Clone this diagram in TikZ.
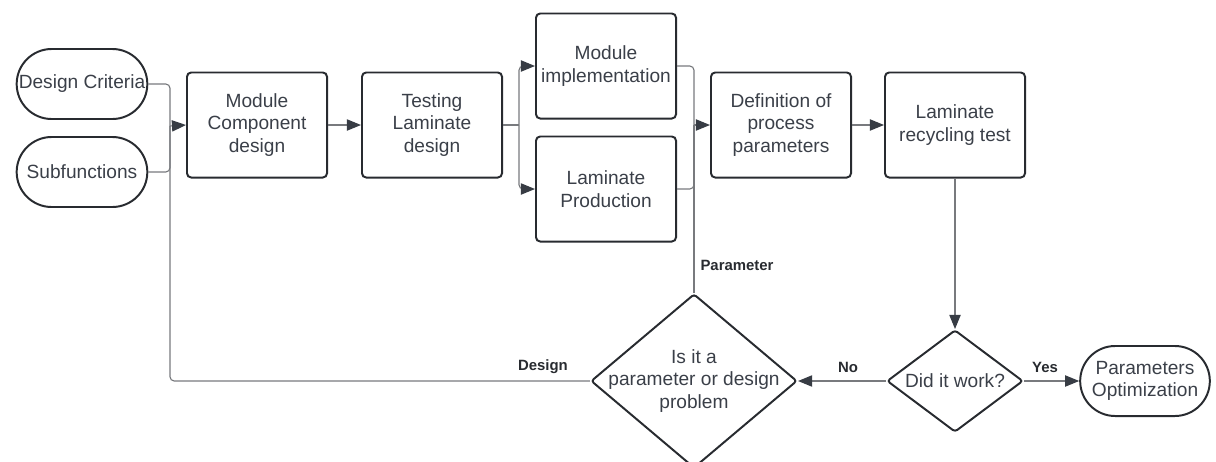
\documentclass[tikz,border=0pt]{standalone}
\usepackage{fontspec}
\setmainfont{Liberation Sans}
\usetikzlibrary{positioning,arrows.meta,shapes.geometric,shapes.misc}
\definecolor{boxline}{RGB}{40,43,48}
\definecolor{txtcol}{RGB}{58,63,72}
\definecolor{linkcol}{RGB}{120,122,126}
\definecolor{tipcol}{RGB}{55,60,68}

\begin{document}
\begin{tikzpicture}[x=0.025cm, y=-0.025cm,
  every node/.style={text=txtcol, font=\fontsize{13.6}{16}\selectfont},
  stepbox/.style={rectangle, rounded corners=3pt, draw=boxline, line width=1.4pt, minimum width=3.5cm, minimum height=2.625cm, align=center},
  term/.style={rounded rectangle, draw=boxline, line width=1.4pt, minimum width=3.5cm, minimum height=1.75cm, align=center},
  choice/.style={diamond, draw=boxline, line width=1.4pt, rounded corners=2pt, inner sep=0pt},
  lbl/.style={font=\fontsize{10.6}{12}\selectfont\bfseries, text=boxline},
  link/.style={draw=linkcol, line width=0.8pt, rounded corners=3pt},
  arr/.style={link, -{Triangle[length=10pt, width=8pt, color=tipcol]}}]
\useasboundingbox (0,0) rectangle (1216,461);
% Inputs
\node[term] (crit) at (82,84) {Design Criteria};
\node[term] (subf) at (82,172) {Subfunctions};
% Main chain
\node[stepbox] (mcd) at (257,125) {Module\\Component\\design};
\node[stepbox] (tld) at (432,125) {Testing\\Laminate\\design};
\node[stepbox] (mimp) at (606,66) {Module\\implementation};
\node[stepbox] (lprod) at (606,189) {Laminate\\Production};
\node[stepbox] (dpp) at (781,125) {Definition of\\process\\parameters};
\node[stepbox] (lrt) at (955,125) {Laminate\\recycling test};
% Decisions
\node[choice, minimum width=5.15cm, minimum height=4.35cm] (prob) at (694,381) {};
\node[align=center] (probtxt) at (694,381) {Is it a\\parameter or design\\problem};
\node[choice, minimum width=3.4cm, minimum height=2.55cm] (work) at (955,381) {};
\node (worktxt) at (955,381) {Did it work?};
\node[term, minimum width=3.475cm] (opt) at (1145,381) {Parameters\\Optimization};
% Junctions
\coordinate (jin) at (170,126);
\coordinate (split) at (519,125);
\coordinate (merge) at (694,125);

% Edges
\draw[link] (crit.east) -| (jin);
\draw[link] (subf.east) -| (jin);
\draw[link] (prob.west) -| (jin);
\draw[arr] (jin) -- (mcd.west);
\draw[arr] (mcd) -- (tld);
\draw[link] (tld.east) -- (split);
\draw[arr] (split) |- (mimp.west);
\draw[arr] (split) |- (lprod.west);
\draw[link] (mimp.east) -| (merge);
\draw[link] (lprod.east) -| (merge);
\draw[link] (prob.north) -- (merge);
\draw[arr] (merge) -- (dpp.west);
\draw[arr] (dpp) -- (lrt);
\draw[arr] (lrt) -- (work.north);
\draw[arr] (work.west) -- (prob.east);
\draw[arr] (work.east) -- (opt.west);

% Labels
\node[lbl] (dlbl) at (543,367) {Design};
\node[lbl] (plbl) at (737,265) {Parameter};
\node[lbl] (nlbl) at (848,367) {No};
\node[lbl] (ylbl) at (1045,367) {Yes};
\end{tikzpicture}
\end{document}
